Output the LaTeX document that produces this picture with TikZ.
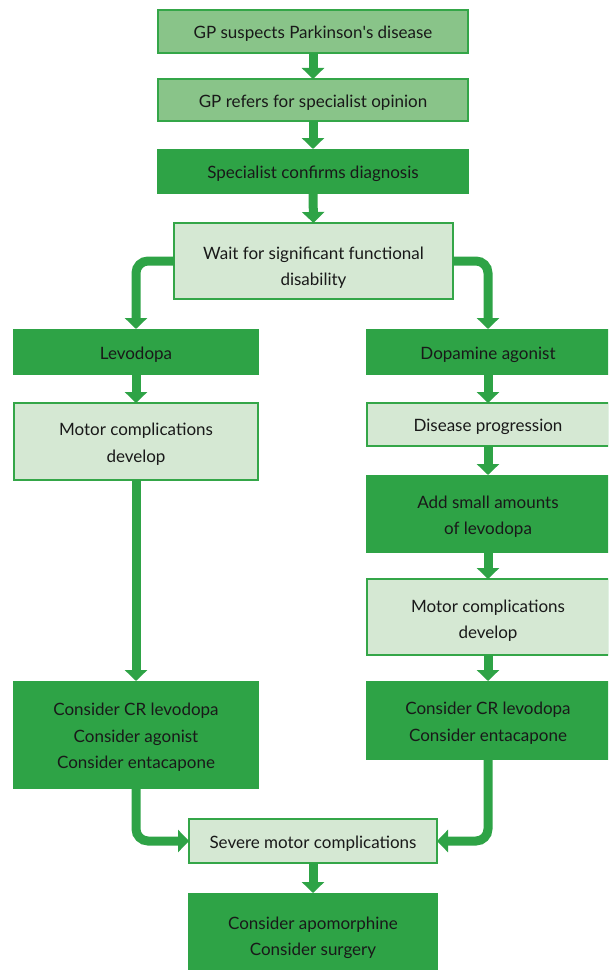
\documentclass[tikz,border=0pt]{standalone}
\usepackage{fontspec}
\setmainfont{Lato}
\usetikzlibrary{arrows.meta}
\definecolor{gdark}{RGB}{46,163,70}
\definecolor{gmid}{RGB}{137,196,137}
\definecolor{glight}{RGB}{213,232,211}
\definecolor{gline}{RGB}{52,166,72}
\definecolor{txt}{RGB}{25,25,25}
\tikzset{
  box/.style={rectangle, inner sep=0pt, outer sep=0pt},
  midbox/.style={box, fill=gmid, draw=gline, line width=2pt},
  darkbox/.style={box, fill=gdark},
  lightbox/.style={box, fill=glight, draw=gline, line width=2pt},
  label text/.style={inner sep=0pt, align=center, text=txt,
    font=\fontsize{17}{26.5}\selectfont},
  arr/.style={draw=gdark, line width=9pt, -{Triangle[width=22pt,length=11pt]}},
  elbow/.style={arr, rounded corners=12pt}
}
\newcommand\boxtext[3][-2.5pt]{\node[label text] at ([yshift=#1]#2.center) {#3};}
\begin{document}
\begin{tikzpicture}[x=1pt,y=-1pt]
\useasboundingbox (0,0) rectangle (608,971);
\clip (0,0) rectangle (608,971);
\node[midbox, minimum width=310pt, minimum height=43pt] (b1) at (313,31.5) {};
\node[midbox, minimum width=310pt, minimum height=42pt] (b2) at (313,100) {};
\node[darkbox, minimum width=312pt, minimum height=45pt] (b3) at (313,171.5) {};
\node[lightbox, minimum width=279pt, minimum height=76pt] (b4) at (313.5,261) {};
\node[darkbox, minimum width=246pt, minimum height=46pt] (b5) at (136,352) {};
\node[darkbox, minimum width=244pt, minimum height=46pt] (b6) at (488,352) {};
\node[lightbox, minimum width=244pt, minimum height=77pt] (b7) at (136,441.5) {};
\node[lightbox, minimum width=242pt, minimum height=43pt] (b8) at (488,424.5) {};
\node[darkbox, minimum width=244pt, minimum height=78pt] (b9) at (488,514) {};
\node[lightbox, minimum width=242pt, minimum height=76pt] (b10) at (488,617) {};
\node[darkbox, minimum width=246pt, minimum height=108pt] (b11) at (136,735) {};
\node[darkbox, minimum width=244pt, minimum height=79pt] (b12) at (488,720.5) {};
\node[lightbox, minimum width=248pt, minimum height=44pt] (b13) at (313,841) {};
\node[darkbox, minimum width=250pt, minimum height=77pt] (b14) at (313,931.5) {};

\boxtext{b1}{GP suspects Parkinson\textquotesingle s disease}
\boxtext{b2}{GP refers for specialist opinion}
\boxtext{b3}{Specialist confirms diagnosis}
\boxtext[-6.5pt]{b4}{Wait for significant functional\\disability}
\boxtext{b5}{Levodopa}
\boxtext{b6}{Dopamine agonist}
\boxtext{b7}{Motor complications\\develop}
\boxtext{b8}{Disease progression}
\boxtext{b9}{Add small amounts\\of levodopa}
\boxtext[-3.5pt]{b10}{Motor complications\\develop}
\boxtext{b11}{Consider CR levodopa\\Consider agonist\\Consider entacapone}
\boxtext{b12}{Consider CR levodopa\\Consider entacapone}
\boxtext{b13}{Severe motor complications}
\boxtext[-6.5pt]{b14}{Consider apomorphine\\Consider surgery}

\draw[arr] (b1.south) -- (b2.north);
\draw[arr] (b2.south) -- (b3.north);
\draw[arr] (b3.south) -- (b4.north);
\draw[elbow] (b4.west) -- (b5.north |- b4.west) -- (b5.north);
\draw[elbow] (b4.east) -- (b6.north |- b4.east) -- (b6.north);
\draw[arr] (b5.south) -- (b7.north);
\draw[arr] (b7.south) -- (b11.north);
\draw[arr] (b6.south) -- (b8.north);
\draw[arr] (b8.south) -- (b9.north);
\draw[arr] (b9.south) -- (b10.north);
\draw[arr] (b10.south) -- (b12.north);
\draw[elbow] (b11.south) -- (b11.south |- b13.west) -- (b13.west);
\draw[elbow] (b12.south) -- (b12.south |- b13.east) -- (b13.east);
\draw[arr] (b13.south) -- (b14.north);
\end{tikzpicture}
\end{document}
